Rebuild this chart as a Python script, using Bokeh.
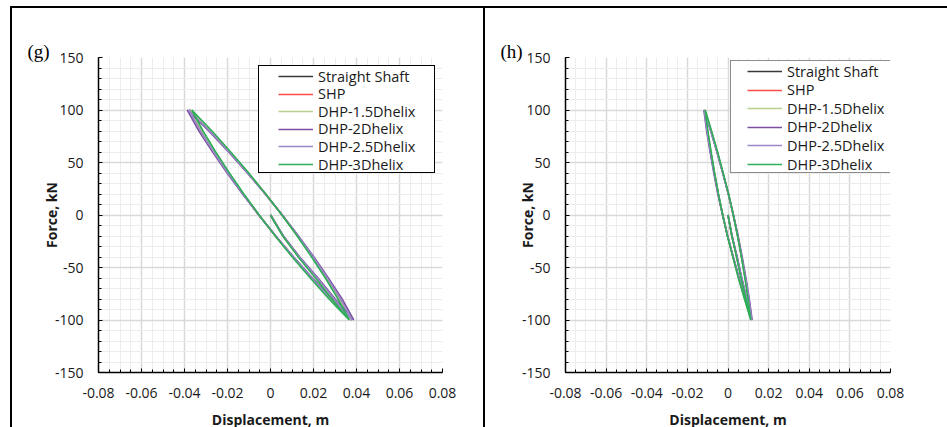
from bokeh.plotting import figure
from bokeh.models import Legend, LegendItem, FixedTicker, Range1d, Spacer
from bokeh.layouts import row, column
from bokeh.embed import file_html
from bokeh.resources import INLINE

# ---------------- data ----------------
series_names = ["Straight Shaft", "SHP", "DHP-1.5Dhelix", "DHP-2Dhelix", "DHP-2.5Dhelix", "DHP-3Dhelix"]
series_colors = ["#3a3a3a", "#ff4b4b", "#b9d08c", "#7b4fa0", "#9c8ac8", "#2fae5a"]

x_tick_values = [-0.08, -0.06, -0.04, -0.02, 0, 0.02, 0.04, 0.06, 0.08]
x_tick_labels = ["-0.08", "-0.06", "-0.04", "-0.02", "0", "0.02", "0.04", "0.06", "0.08"]
y_tick_values = [-150, -100, -50, 0, 50, 100, 150]
y_tick_labels = ["-150", "-100", "-50", "0", "50", "100", "150"]

# force path (kN): initial loading, then up the lower branch, then down the upper branch
force_path = [0, -20, -40, -60, -80, -100,
              -80, -60, -40, -20, 0, 20, 40, 60, 80, 100,
              80, 60, 40, 20, 0, -20, -40, -60, -80, -100]

# panel (g) displacements (m)
g_straight = [0, 0.0059, 0.0133, 0.0216, 0.0294, 0.0378,
              0.0280, 0.0191, 0.0105, 0.0024, -0.0054, -0.0128, -0.0197, -0.0263, -0.0324, -0.0378,
              -0.0280, -0.0191, -0.0105, -0.0024, 0.0054, 0.0128, 0.0197, 0.0263, 0.0324, 0.0378]
g_shp = [0, 0.0058, 0.0132, 0.0215, 0.0292, 0.0376,
         0.0279, 0.0190, 0.0104, 0.0023, -0.0054, -0.0127, -0.0196, -0.0262, -0.0323, -0.0376,
         -0.0279, -0.0190, -0.0104, -0.0023, 0.0054, 0.0127, 0.0196, 0.0262, 0.0323, 0.0376]
g_dhp15 = [0, 0.0058, 0.0131, 0.0213, 0.0289, 0.0372,
           0.0277, 0.0188, 0.0104, 0.0023, -0.0053, -0.0125, -0.0194, -0.0258, -0.0319, -0.0372,
           -0.0277, -0.0188, -0.0104, -0.0023, 0.0053, 0.0125, 0.0194, 0.0258, 0.0319, 0.0372]
g_dhp2 = [0, 0.0060, 0.0136, 0.0221, 0.0301, 0.0387,
          0.0287, 0.0195, 0.0108, 0.0024, -0.0055, -0.0130, -0.0202, -0.0269, -0.0333, -0.0387,
          -0.0287, -0.0195, -0.0108, -0.0024, 0.0055, 0.0130, 0.0202, 0.0269, 0.0333, 0.0387]
g_dhp25 = [0, 0.0059, 0.0134, 0.0217, 0.0296, 0.0380,
           0.0282, 0.0192, 0.0106, 0.0024, -0.0054, -0.0128, -0.0198, -0.0264, -0.0326, -0.0380,
           -0.0282, -0.0192, -0.0106, -0.0024, 0.0054, 0.0128, 0.0198, 0.0264, 0.0326, 0.0380]
g_dhp3 = [0, 0.0057, 0.0129, 0.0209, 0.0285, 0.0366,
          0.0272, 0.0185, 0.0101, 0.0022, -0.0053, -0.0124, -0.0191, -0.0255, -0.0314, -0.0366,
          -0.0272, -0.0185, -0.0101, -0.0022, 0.0053, 0.0124, 0.0191, 0.0255, 0.0314, 0.0366]

# panel (h) displacements (m)
h_straight = [0, 0.0019, 0.0044, 0.0066, 0.0091, 0.0116,
              0.0084, 0.0054, 0.0025, -0.0002, -0.0026, -0.0048, -0.0067, -0.0086, -0.0102, -0.0116,
              -0.0084, -0.0054, -0.0025, 0.0002, 0.0026, 0.0048, 0.0067, 0.0086, 0.0102, 0.0116]
h_shp = [0, 0.0019, 0.0043, 0.0066, 0.0090, 0.0115,
         0.0083, 0.0053, 0.0025, -0.0002, -0.0026, -0.0048, -0.0067, -0.0085, -0.0101, -0.0115,
         -0.0083, -0.0053, -0.0025, 0.0002, 0.0026, 0.0048, 0.0067, 0.0085, 0.0101, 0.0115]
h_dhp15 = [0, 0.0019, 0.0043, 0.0065, 0.0089, 0.0114,
           0.0082, 0.0052, 0.0025, -0.0002, -0.0026, -0.0048, -0.0067, -0.0084, -0.0100, -0.0114,
           -0.0082, -0.0052, -0.0025, 0.0002, 0.0026, 0.0048, 0.0067, 0.0084, 0.0100, 0.0114]
h_dhp2 = [0, 0.0020, 0.0045, 0.0068, 0.0093, 0.0119,
          0.0085, 0.0054, 0.0026, -0.0002, -0.0027, -0.0050, -0.0070, -0.0088, -0.0105, -0.0119,
          -0.0085, -0.0054, -0.0026, 0.0002, 0.0027, 0.0050, 0.0070, 0.0088, 0.0105, 0.0119]
h_dhp25 = [0, 0.0020, 0.0044, 0.0067, 0.0092, 0.0117,
           0.0085, 0.0054, 0.0026, -0.0002, -0.0026, -0.0048, -0.0068, -0.0086, -0.0103, -0.0117,
           -0.0085, -0.0054, -0.0026, 0.0002, 0.0026, 0.0048, 0.0068, 0.0086, 0.0103, 0.0117]
h_dhp3 = [0, 0.0019, 0.0042, 0.0064, 0.0088, 0.0112,
          0.0081, 0.0051, 0.0024, -0.0003, -0.0026, -0.0047, -0.0066, -0.0083, -0.0099, -0.0112,
          -0.0081, -0.0051, -0.0024, 0.0003, 0.0026, 0.0047, 0.0066, 0.0083, 0.0099, 0.0112]

panel_g = [g_straight, g_shp, g_dhp15, g_dhp2, g_dhp25, g_dhp3]
panel_h = [h_straight, h_shp, h_dhp15, h_dhp2, h_dhp25, h_dhp3]

FONT = "Open Sans"
x_minor = [round(-0.08 + 0.005 * i, 4) for i in range(33)]
y_minor = list(range(-150, 151, 10))

FIG_H = 425
BORDER_TOP = 49
BORDER_BOTTOM = FIG_H - BORDER_TOP - 315
FRAME_H = 315
ROW_H = 20


def make_panel(tag, paths, fig_w, b_left, b_right, ylab_standoff, tag_offset,
               legend_x, row_top, row_pitch, box_loc, box_size, box_color, box_width):
    frame_w = fig_w - b_left - b_right
    p = figure(width=fig_w, height=FIG_H, frame_width=frame_w, frame_height=FRAME_H,
               x_range=Range1d(-0.08, 0.08), y_range=Range1d(-150, 150),
               output_backend="svg", toolbar_location=None,
               min_border_left=b_left, min_border_right=b_right,
               min_border_top=BORDER_TOP, min_border_bottom=BORDER_BOTTOM)
    p.outline_line_color = None
    p.background_fill_color = "white"
    p.border_fill_color = "white"

    # panel tag as title
    p.title.text = tag
    p.title.align = "left"
    p.title.offset = tag_offset
    p.title.standoff = -9
    p.title.text_font = "Liberation Serif"
    p.title.text_font_size = "19px"
    p.title.text_font_style = "normal"
    p.title.text_color = "black"

    p.xaxis.ticker = FixedTicker(ticks=x_tick_values, minor_ticks=x_minor)
    p.yaxis.ticker = FixedTicker(ticks=y_tick_values, minor_ticks=y_minor)
    p.xaxis.major_label_overrides = dict(zip(x_tick_values, x_tick_labels))
    p.yaxis.major_label_overrides = dict(zip(y_tick_values, y_tick_labels))

    for ax in (p.xaxis[0], p.yaxis[0]):
        ax.axis_line_color = "black"
        ax.axis_line_width = 1.5
        ax.major_tick_line_color = "black"
        ax.minor_tick_line_color = "black"
        ax.major_tick_in = 4
        ax.major_tick_out = 0
        ax.minor_tick_in = 3
        ax.minor_tick_out = 0
        ax.major_label_text_font = FONT
        ax.major_label_text_font_size = "14px"
        ax.major_label_text_color = "#1a1a1a"
        ax.axis_label_text_font = FONT
        ax.axis_label_text_font_size = "14px"
        ax.axis_label_text_font_style = "bold"
        ax.axis_label_text_color = "#1a1a1a"

    p.xaxis.axis_label = "Displacement, m"
    p.yaxis.axis_label = "Force, kN"
    p.xaxis.major_label_standoff = 15
    p.xaxis.axis_label_standoff = 9
    p.yaxis.major_label_standoff = 15
    p.yaxis.axis_label_standoff = ylab_standoff

    for g in (p.xgrid[0], p.ygrid[0]):
        g.grid_line_color = "#d9d9d9"
        g.grid_line_width = 1.5
        g.minor_grid_line_color = "#ededed"
        g.minor_grid_line_width = 1

    renderers = []
    for color, disp in zip(series_colors, paths):
        renderers.append(p.line(disp, force_path, line_color=color, line_width=1.6))

    # legend frame (white box with border) drawn as an empty-glyph legend
    ghost = p.line(x=[], y=[], line_alpha=0)
    box_legend = Legend(items=[LegendItem(label=" ", renderers=[ghost])],
                        location=box_loc, padding=0, margin=0, spacing=0,
                        glyph_width=box_size[0], glyph_height=box_size[1],
                        label_height=0, label_width=0, label_standoff=0,
                        label_text_font_size="1px",
                        border_line_color=box_color, border_line_width=box_width,
                        border_line_alpha=1.0,
                        background_fill_color="white", background_fill_alpha=1.0)
    p.add_layout(box_legend)

    # one legend entry per row, so the row pitch matches the reference
    for i, (name, r) in enumerate(zip(series_names, renderers)):
        center = row_top + i * row_pitch          # canvas px below the frame top
        bottom = FRAME_H - (center + ROW_H / 2)   # frame-relative, from the bottom
        lg = Legend(items=[LegendItem(label=name, renderers=[r])],
                    location=(legend_x, bottom), padding=0, margin=0, spacing=0,
                    glyph_width=35, glyph_height=ROW_H, label_height=ROW_H,
                    label_standoff=5, border_line_color=None, background_fill_alpha=0,
                    label_text_font=FONT, label_text_font_size="14.5px",
                    label_text_color="#1a1a1a")
        p.add_layout(lg)
    return p


# row_top: centre of first legend row, measured from the frame top (frame top = 57 px)
p_g = make_panel("(g)", panel_g, 471, 86, 41, -9, -71,
                 180, 19, 17.6, (160, 199), (175, 106), "black", 1.5)
p_h = make_panel("(h)", panel_h, 462, 80, 57, -18, -65,
                 182, 14, 18.6, (165, 199), (159, 111), "#8c8c8c", 1)


def bar(w, h):
    return Spacer(width=w, height=h, margin=0, styles={"background-color": "black"})


layout = column(
    Spacer(width=947, height=6, margin=0),
    row(Spacer(width=10, height=2, margin=0), bar(937, 2), spacing=0),
    row(Spacer(width=10, height=FIG_H, margin=0), bar(2, FIG_H), p_g, bar(2, FIG_H), p_h, spacing=0),
    spacing=0,
)
open("out.html", "w").write(file_html(layout, INLINE))
